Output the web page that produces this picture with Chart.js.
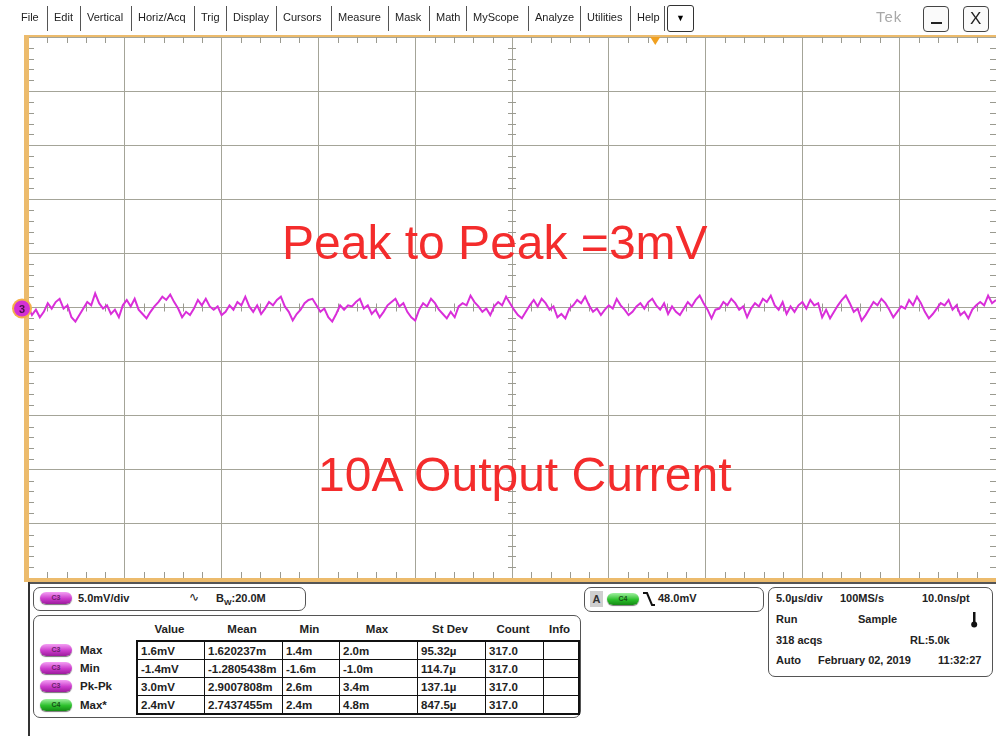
<!DOCTYPE html>
<html>
<head>
<meta charset="utf-8">
<script src="https://cdn.jsdelivr.net/npm/chart.js@4.4.1/dist/chart.umd.min.js"></script>
<style>
  body { margin: 0; width: 996px; height: 736px; overflow: hidden; background: #fff; position: relative;
         font-family: "Liberation Sans", Arial, sans-serif; }
  .abs { position: absolute; }
  .menu { position: absolute; top: 10px; font-size: 11px; color: #222; line-height: 14px; }
  .sep { position: absolute; top: 6px; width: 1px; height: 25px; background: #555; }
  .btn { position: absolute; top: 6px; width: 24px; height: 24px; border: 1px solid #444; border-radius: 4px; background: #fafafa; }
  .big { position: absolute; font-size: 48px; line-height: 48px; color: #f42c2c; white-space: nowrap; }
  .box { position: absolute; border: 1px solid #555; border-radius: 7px; background: #fff; }
  .t { position: absolute; font-weight: bold; font-size: 11px; color: #222; white-space: nowrap; line-height: 14px; }
  .pill { position: absolute; width: 32px; height: 12px; border-radius: 7px; font: bold 7px "Liberation Sans", Arial; color: #6a246a;
          text-align: center; line-height: 12px; box-shadow: 0 1px 1px #777; }
  .c3 { background: linear-gradient(#f4a0f4, #cc3ccc 55%, #9c1c9c); }
  .c4 { background: linear-gradient(#a0f0a0, #2cc02c 55%, #148a14); color: #185018; }
  #meas { position: absolute; left: 136px; top: 640px; border-collapse: collapse; border: 2px solid #111; }
  #meas td { border: 1px solid #111; height: 17px; padding: 0 0 0 3px; font-weight: bold; font-size: 11.5px; color: #222; white-space: nowrap; }
</style>
</head>
<body>
<canvas id="scope" width="996" height="584" style="position:absolute;left:0;top:0"></canvas>

<div id="menubar"></div>
<div class="abs" style="left:876px;top:8px;font-size:15px;color:#a8a8a8;letter-spacing:1px">Tek</div>
<div class="btn" style="left:923px"><div class="abs" style="left:7px;top:15px;width:11px;height:2px;background:#222"></div></div>
<div class="btn" style="left:963px"><div class="abs" style="left:6px;top:2px;font-size:17px;color:#222">X</div></div>

<div class="big" style="left:282px;top:219px">Peak to Peak =3mV</div>
<div class="big" style="left:318px;top:451px">10A Output Current</div>

<!-- bottom readout panel -->
<div class="abs" style="left:28px;top:582px;width:968px;height:2px;background:#555"></div>
<div class="abs" style="left:28px;top:582px;width:2px;height:154px;background:#333"></div>

<div class="box" style="left:33px;top:587px;width:271px;height:22px"></div>
<div class="pill c3" style="left:40px;top:592px">C3</div>
<div class="t" style="left:78px;top:591px">5.0mV/div</div>
<div class="t" style="left:189px;top:590px;font-weight:normal;font-family:'DejaVu Sans';font-size:12px">&#x223F;</div>
<div class="t" style="left:216px;top:591px">B<sub style="font-size:8px;vertical-align:-3px">W</sub>:20.0M</div>

<div class="box" style="left:33px;top:615px;width:546px;height:101px"></div>
<div id="measHead"></div>
<div id="measLabels"></div>
<table id="meas"></table>

<div class="box" style="left:584px;top:587px;width:178px;height:23px"></div>
<div class="abs" style="left:590px;top:591px;width:13px;height:16px;background:#cfcfcf;font:bold 11px 'Liberation Sans';line-height:16px;text-align:center;color:#333">A</div>
<div class="pill c4" style="left:607px;top:593px">C4</div>
<svg class="abs" style="left:642px;top:591px" width="14" height="16"><polyline points="1,2 5,2 10,14 13,14" fill="none" stroke="#111" stroke-width="2"/></svg>
<div class="t" style="left:658px;top:591px">48.0mV</div>

<div class="box" style="left:768px;top:587px;width:223px;height:88px"></div>
<div class="t" style="left:776px;top:591px">5.0µs/div</div>
<div class="t" style="left:840px;top:591px">100MS/s</div>
<div class="t" style="left:922px;top:591px">10.0ns/pt</div>
<div class="t" style="left:776px;top:612px">Run</div>
<div class="t" style="left:858px;top:612px">Sample</div>
<svg class="abs" style="left:969px;top:611px" width="10" height="18"><rect x="4" y="1" width="2.5" height="11" fill="#111"/><circle cx="5.2" cy="13.5" r="3" fill="#111"/></svg>
<div class="t" style="left:776px;top:633px">318 acqs</div>
<div class="t" style="left:910px;top:633px">RL:5.0k</div>
<div class="t" style="left:776px;top:653px">Auto</div>
<div class="t" style="left:818px;top:653px">February 02, 2019</div>
<div class="t" style="left:938px;top:653px">11:32:27</div>

<script>
// C3 trace, mV left to right (5.0mV/div, 5.0us/div)
const c3Millivolts = [
  0.1,-0.7,-0.2,-0.9,-0.4,0.4,-0.1,0.5,0.8,-0.1,0.2,-0.9,-1.3,-0.7,-0.1,0.5,0.2,1.3,0.4,-0.1,
  0.2,-0.6,-0.2,-0.9,0.2,0.7,0.1,0.8,-0.2,-0.6,-1.0,-0.4,0.1,0.5,1.0,0.7,1.2,0.5,-0.1,-0.9,
  -0.4,-0.7,-0.1,0.7,0.2,0.8,0.1,-0.2,0.1,-0.7,-0.4,0.2,-0.2,0.5,0.2,1.0,0.1,-0.4,0.2,-0.6,
  -0.1,0.5,0.2,0.7,1.0,0.1,-0.4,-1.2,-0.6,-0.2,0.4,0.7,0.8,0.2,-0.4,-0.1,-0.9,-1.3,-0.6,0.2,
  -0.2,0.2,
  0.1,0.5,0.8,-0.1,0.2,-0.6,-0.2,-0.9,-0.4,0.2,0.5,0.8,0.1,0.4,-0.4,-0.9,-1.2,-0.2,0.4,0.1,
  0.8,0.4,-0.2,-0.6,-1.0,-0.4,-0.9,0.1,0.4,0.2,1.1,0.5,0.1,-0.4,-0.1,-0.7,0.1,0.5,0.2,1.0,
  0.4,-0.2,-0.7,-1.0,-0.4,0.2,0.7,0.1,0.8,0.4,-0.2,0.1,-0.9,-0.6,-1.0,-0.1,0.2,0.7,0.4,1.0,
  0.2,-0.4,-0.1,-0.7,-0.2,0.2,-0.1,0.8,0.2,-0.2,-0.7,-0.4,0.1,0.4,-0.1,0.5,0.8,0.2,-0.2,0.4,
  -0.6,0.1,
  -0.4,-0.7,-0.1,0.5,0.1,0.7,1.1,0.4,-0.2,-1.0,-0.2,-0.1,0.5,0.2,0.8,0.4,-0.2,0.1,-0.9,-0.1,
  0.4,0.1,0.8,0.5,1.1,0.2,-0.2,0.5,-0.6,0.1,-0.4,0.2,0.5,-0.1,0.7,0.2,0.4,-0.9,-0.2,-1.0,
  -0.4,0.2,0.7,1.1,0.4,-0.4,-0.1,-1.2,-0.7,-0.1,0.5,0.2,0.8,0.4,-0.2,-0.9,-0.4,0.1,-0.1,0.7,
  0.2,1.0,0.4,-0.4,-1.0,-0.6,-0.1,0.4,0.2,0.7,-0.2,0.2,-0.7,-0.4,-1.0,-0.2,0.2,0.5,0.2,1.1,
  0.4,0.7
];
const timeRangeUs = [-25, 25];     // 10 div x 5.0us
const voltRangeMv = [-25, 25];     // 10 div x 5.0mV
const triggerTimeUs = 7.4;

const menuItems = ['File','Edit','Vertical','Horiz/Acq','Trig','Display','Cursors','Measure','Mask','Math','MyScope','Analyze','Utilities','Help'];
const menuX = [21,54,87,138,201,233,283,338,395,436,473,535,587,637];

const measNames = ['Max', 'Min', 'Pk-Pk', 'Max*'];
const measChannel = ['C3', 'C3', 'C3', 'C4'];
const measHeaders = ['Value', 'Mean', 'Min', 'Max', 'St Dev', 'Count', 'Info'];
const measValue = ['1.6mV', '-1.4mV', '3.0mV', '2.4mV'];
const measMean = ['1.620237m', '-1.2805438m', '2.9007808m', '2.7437455m'];
const measMin = ['1.4m', '-1.6m', '2.6m', '2.4m'];
const measMax = ['2.0m', '-1.0m', '3.4m', '4.8m'];
const measStdDev = ['95.32µ', '114.7µ', '137.1µ', '847.5µ'];
const measCount = ['317.0', '317.0', '317.0', '317.0'];

// menu bar
const bar = document.getElementById('menubar');
menuItems.forEach((m, i) => {
  bar.insertAdjacentHTML('beforeend', `<div class="menu" style="left:${menuX[i]}px">${m}</div>`);
  if (i > 0) bar.insertAdjacentHTML('beforeend', `<div class="sep" style="left:${menuX[i] - 7}px"></div>`);
});
bar.insertAdjacentHTML('beforeend', '<div class="sep" style="left:664px"></div>');
bar.insertAdjacentHTML('beforeend', '<div class="abs" style="left:667px;top:5px;width:25px;height:25px;border:1px solid #333;border-radius:3px;font-size:9px;text-align:center;line-height:25px">&#9660;</div>');

// measurement table
const colW = [67, 78, 57, 78, 68, 58, 35];
const tbl = document.getElementById('meas');
const cols = [measValue, measMean, measMin, measMax, measStdDev, measCount];
measNames.forEach((name, r) => {
  const row = tbl.insertRow();
  colW.forEach((w, c) => {
    const cell = row.insertCell(c);
    cell.style.width = (w - 4) + 'px';
    cell.textContent = c < cols.length ? cols[c][r] : '';
  });
  const y = 641 + r * 18.2;
  document.getElementById('measLabels').insertAdjacentHTML('beforeend',
    `<div class="pill ${measChannel[r].toLowerCase()}" style="left:40px;top:${y + 3}px">${measChannel[r]}</div>` +
    `<div class="t" style="left:80px;top:${y + 2}px;font-size:11.5px">${name}</div>`);
});
let cx = 136;
measHeaders.forEach((h, c) => {
  document.getElementById('measHead').insertAdjacentHTML('beforeend',
    `<div class="t" style="left:${cx}px;top:622px;width:${colW[c]}px;text-align:center;font-size:11.5px">${h}</div>`);
  cx += colW[c];
});

// scope graticule extras: minor ticks, frame, markers
const graticule = {
  id: 'graticule',
  beforeDatasetsDraw(chart) {
    const { ctx, chartArea: a, scales: { x, y } } = chart;
    const xc = x.getPixelForValue(0), yc = y.getPixelForValue(0);
    ctx.save();
    ctx.strokeStyle = '#9a9a90';
    ctx.lineWidth = 1;
    ctx.beginPath();
    for (let t = timeRangeUs[0] + 1; t < timeRangeUs[1]; t++) {
      if (t % 5 === 0) continue;
      const px = Math.round(x.getPixelForValue(t)) + 0.5;
      ctx.moveTo(px, a.top); ctx.lineTo(px, a.top + 6);
      ctx.moveTo(px, a.bottom); ctx.lineTo(px, a.bottom - 6);
      ctx.moveTo(px, yc - 4); ctx.lineTo(px, yc + 4);
    }
    for (let v = voltRangeMv[0] + 1; v < voltRangeMv[1]; v++) {
      if (v % 5 === 0) continue;
      const py = Math.round(y.getPixelForValue(v)) + 0.5;
      ctx.moveTo(a.left, py); ctx.lineTo(a.left + 6, py);
      ctx.moveTo(a.right, py); ctx.lineTo(a.right - 6, py);
      ctx.moveTo(xc - 4, py); ctx.lineTo(xc + 4, py);
    }
    ctx.stroke();
    ctx.restore();
  },
  afterDatasetsDraw(chart) {
    const { ctx, chartArea: a, scales: { x, y } } = chart;
    ctx.save();
    // orange frame
    ctx.fillStyle = '#ecbb6c';
    ctx.fillRect(a.left - 3, a.top - 2, a.right - a.left + 3, 2);
    ctx.fillRect(a.left - 4, a.top - 2, 5, a.bottom - a.top + 6);
    ctx.fillRect(a.left - 4, a.bottom, a.right - a.left + 4, 4);
    // trigger position marker
    const tx = x.getPixelForValue(triggerTimeUs);
    ctx.fillStyle = '#f0a020';
    ctx.beginPath();
    ctx.moveTo(tx - 5, a.top); ctx.lineTo(tx + 5, a.top); ctx.lineTo(tx, a.top + 8);
    ctx.fill();
    // channel 3 ground marker
    const gy = y.getPixelForValue(0) + 1;
    ctx.beginPath();
    ctx.arc(a.left - 6, gy, 10, 0, Math.PI * 2);
    ctx.fillStyle = '#f4b04a';
    ctx.fill();
    ctx.beginPath();
    ctx.arc(a.left - 6, gy, 8, 0, Math.PI * 2);
    ctx.fillStyle = '#d430d4';
    ctx.fill();
    ctx.fillStyle = '#4a104a';
    ctx.font = 'bold 11px "Liberation Sans", Arial';
    ctx.textAlign = 'center';
    ctx.textBaseline = 'middle';
    ctx.fillText('3', a.left - 6, gy + 1);
    ctx.restore();
  }
};

const n = c3Millivolts.length;
const points = c3Millivolts.map((v, i) => ({
  x: timeRangeUs[0] + i * (timeRangeUs[1] - timeRangeUs[0]) / (n - 1),
  y: v
}));

new Chart(document.getElementById('scope'), {
  type: 'line',
  data: {
    datasets: [{
      data: points,
      borderColor: '#d92ed9',
      borderWidth: 2,
      pointRadius: 0,
      tension: 0
    }]
  },
  options: {
    responsive: false,
    animation: false,
    events: [],
    layout: { padding: { left: 28, top: 37, right: 0, bottom: 6 } },
    plugins: { legend: { display: false }, tooltip: { enabled: false } },
    scales: {
      x: {
        type: 'linear', min: timeRangeUs[0], max: timeRangeUs[1],
        ticks: { display: false, stepSize: 5 },
        grid: { color: '#a4a498', drawTicks: false },
        border: { display: false },
        afterFit(s) { s.height = 0; }
      },
      y: {
        type: 'linear', min: voltRangeMv[0], max: voltRangeMv[1],
        ticks: { display: false, stepSize: 5 },
        grid: { color: '#a4a498', drawTicks: false },
        border: { display: false },
        afterFit(s) { s.width = 0; }
      }
    }
  },
  plugins: [graticule]
});
</script>
</body>
</html>
